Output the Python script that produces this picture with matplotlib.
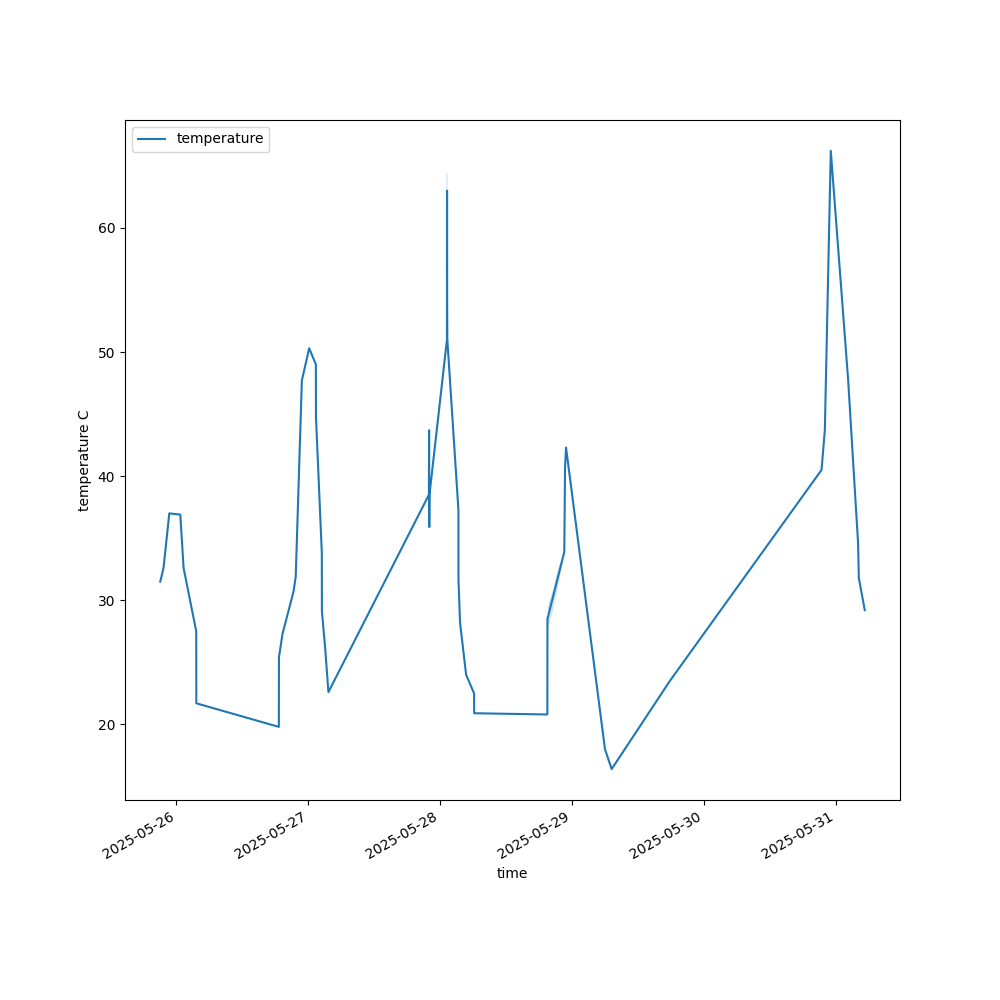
import matplotlib
matplotlib.use("Agg")
import matplotlib.pyplot as plt
import pandas as pd

times = [
    "2025-05-25 21:05", "2025-05-25 21:41", "2025-05-25 22:44", "2025-05-26 00:44",
    "2025-05-26 01:20", "2025-05-26 03:38", "2025-05-26 03:39", "2025-05-26 18:40",
    "2025-05-26 18:41", "2025-05-26 19:20", "2025-05-26 21:20", "2025-05-26 21:44",
    "2025-05-26 22:08", "2025-05-26 22:51", "2025-05-27 00:11", "2025-05-27 01:24",
    "2025-05-27 01:25", "2025-05-27 02:29", "2025-05-27 02:30", "2025-05-27 03:05",
    "2025-05-27 03:41", "2025-05-27 21:58", "2025-05-27 22:00", "2025-05-27 22:02",
    "2025-05-27 22:04", "2025-05-28 01:15", "2025-05-28 01:16", "2025-05-28 01:17",
    "2025-05-28 01:19", "2025-05-28 03:20", "2025-05-28 03:21", "2025-05-28 03:38",
    "2025-05-28 04:44", "2025-05-28 06:11", "2025-05-28 06:12", "2025-05-28 19:31",
    "2025-05-28 19:32", "2025-05-28 22:36", "2025-05-28 22:44", "2025-05-28 22:55",
    "2025-05-29 06:00", "2025-05-29 07:13", "2025-05-29 17:48", "2025-05-30 21:24",
    "2025-05-30 22:00", "2025-05-30 23:05", "2025-05-31 02:14", "2025-05-31 04:03",
    "2025-05-31 04:11", "2025-05-31 05:16",
]
temperature = [
    31.5, 32.6, 37.0, 36.9,
    32.6, 27.5, 21.7, 19.8,
    25.4, 27.3, 30.7, 31.9,
    37.5, 47.7, 50.3, 49.0,
    44.8, 33.8, 29.1, 26.2,
    22.6, 38.5, 43.7, 35.9,
    38.5, 51.0, 63.0, 54.3,
    51.0, 37.3, 31.6, 28.2,
    24.0, 22.5, 20.9, 20.8,
    28.5, 33.9, 40.7, 42.3,
    18.0, 16.4, 23.5, 40.5,
    43.7, 66.2, 47.8, 34.6,
    31.8, 29.2,
]

# confidence band regions (where duplicate readings exist)
band1_times = ["2025-05-28 01:15", "2025-05-28 01:16", "2025-05-28 01:17"]
band1_low = [61.6, 61.6, 61.6]
band1_high = [64.4, 64.4, 64.4]
band2_times = ["2025-05-28 19:31", "2025-05-28 19:32", "2025-05-28 20:30", "2025-05-28 21:30", "2025-05-28 22:36"]
band2_low = [20.8, 27.6, 29.3, 31.4, 33.9]
band2_high = [20.8, 29.6, 31.0, 32.8, 33.9]

t = pd.to_datetime(times)
fig, ax = plt.subplots(figsize=(10, 10), dpi=100)
ax.plot(t, temperature, color="C0", lw=1.5, label="temperature")
ax.fill_between(pd.to_datetime(band1_times), band1_low, band1_high,
                facecolor="C0", edgecolor="C0", alpha=0.15, lw=1.2)
ax.fill_between(pd.to_datetime(band2_times), band2_low, band2_high, color="C0", alpha=0.2, lw=0)
ax.set_xlabel("time")
ax.set_ylabel("temperature C")
ax.legend(loc="upper left")
fig.autofmt_xdate()
fig.savefig("out.png", dpi=100)
